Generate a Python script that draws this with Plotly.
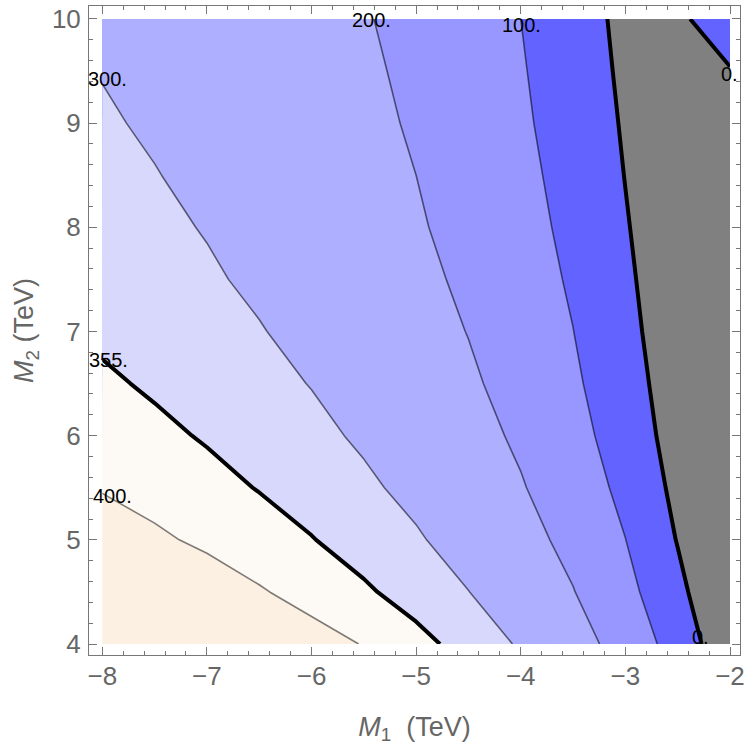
import numpy as np
import plotly.graph_objects as go

# ---- data read (estimated) from the reference picture ----
m1 = [-8.0, -7.5, -7.0, -6.5, -6.0, -5.5, -5.0, -4.5, -4.0, -3.5, -3.0, -2.5, -2.0]   # M1 (TeV)
m2 = [4.0, 4.5, 5.0, 5.5, 6.0, 6.5, 7.0, 7.5, 8.0, 8.5, 9.0, 9.5, 10.0]               # M2 (TeV)

z_m2_40 = [513, 486, 461, 435, 418, 398, 370, 337, 293, 237, 164, 59, -70]
z_m2_45 = [469, 447, 426, 404, 384, 362, 335, 301, 258, 203, 129, 23, -91]
z_m2_50 = [425, 408, 391, 375, 357, 334, 307, 272, 230, 176, 101, -4, -109]
z_m2_55 = [397, 383, 369, 353, 334, 311, 283, 249, 206, 152, 77, -23, -120]
z_m2_60 = [377, 365, 351, 334, 315, 291, 263, 229, 187, 132, 55, -38, -128]
z_m2_65 = [362, 349, 334, 317, 298, 274, 246, 212, 170, 115, 38, -46, -129]
z_m2_70 = [347, 334, 320, 303, 283, 259, 231, 198, 155, 101, 25, -53, -130]
z_m2_75 = [335, 322, 307, 290, 270, 246, 219, 186, 143, 89, 15, -58, -129]
z_m2_80 = [324, 311, 297, 280, 259, 236, 208, 175, 132, 78, 6, -62, -131]
z_m2_85 = [315, 302, 287, 270, 250, 226, 200, 166, 123, 68, -2, -68, -134]
z_m2_90 = [306, 293, 279, 261, 241, 218, 192, 158, 114, 58, -9, -73, -50]
z_m2_95 = [298, 286, 271, 254, 234, 212, 185, 150, 107, 50, -16, -40, -3]
z_m2_100 = [291, 278, 263, 247, 227, 205, 179, 143, 100, 42, -22, -10, 32]

levels = [0, 100, 200, 300, 355, 400]
label_text = ["0.", "0.", "100.", "200.", "300.", "355.", "400."]
label_level = [0, 0, 100, 200, 300, 355, 400]

# ---- styles ----
band_colors = ["#808080", "#6363ff", "#9797ff", "#afafff", "#d8d8fd", "#fdf9f4", "#fcf0e2"]
line_colors = ["black", "rgba(0,0,0,0.55)", "rgba(0,0,0,0.55)", "rgba(0,0,0,0.55)", "black", "rgba(0,0,0,0.5)"]
line_widths = [4, 1.6, 1.6, 1.6, 4, 1.6]
label_edge = ["bottom", "right", "top", "top", "left", "left", "left"]
label_shift = [(-1, 7), (-1, -7), (1, -6), (-2, -1), (5, 5), (6, -1), (10, -3)]

Z = np.array([z_m2_40, z_m2_45, z_m2_50, z_m2_55, z_m2_60, z_m2_65, z_m2_70,
              z_m2_75, z_m2_80, z_m2_85, z_m2_90, z_m2_95, z_m2_100], dtype=float)
X = np.array(m1)
Y = np.array(m2)

# stepped colour scale for filled bands (contour step 5 covers all levels)
step = 5.0
zlo = levels[0] - step / 2
zhi = levels[-1] + step / 2
cs = [[0.0, band_colors[0]]]
for k, lv in enumerate(levels):
    p = (lv - zlo) / (zhi - zlo)
    cs.append([p, band_colors[k]])
    cs.append([p, band_colors[k + 1]])
cs.append([1.0, band_colors[-1]])

fig = go.Figure()
fig.add_trace(go.Contour(
    x=X, y=Y, z=Z, autocontour=False,
    contours=dict(start=levels[0], end=levels[-1], size=step, coloring="fill", showlines=False),
    colorscale=cs, showscale=False, line=dict(width=0, smoothing=0), hoverinfo="skip",
))
for lv, lc, lw in zip(levels, line_colors, line_widths):
    fig.add_trace(go.Contour(
        x=X, y=Y, z=Z, autocontour=False,
        contours=dict(start=lv, end=lv, size=1, coloring="none"),
        line=dict(color=lc, width=lw, smoothing=0), showscale=False, hoverinfo="skip",
    ))


def crossing(vals, coords, level):
    for i in range(len(vals) - 1):
        a, b = vals[i] - level, vals[i + 1] - level
        if a * b <= 0 and a != b:
            return coords[i] + a / (a - b) * (coords[i + 1] - coords[i])
    return None


for txt, lv, edge, (dx, dy) in zip(label_text, label_level, label_edge, label_shift):
    if edge == "top":
        px, py = crossing(Z[-1], X, lv), Y[-1]
    elif edge == "bottom":
        px, py = crossing(Z[0], X, lv), Y[0]
    elif edge == "left":
        px, py = X[0], crossing(Z[:, 0], Y, lv)
    else:
        px, py = X[-1], crossing(Z[:, -1], Y, lv)
    fig.add_annotation(x=px, y=py, text=txt, showarrow=False, xanchor="center", yanchor="middle",
                       xshift=dx, yshift=dy, font=dict(family="Liberation Sans", size=20, color="black"))

frame = "#777777"
axis_common = dict(
    showline=True, linecolor=frame, linewidth=1, mirror="allticks",
    ticks="inside", ticklen=8, tickwidth=1, tickcolor=frame, dtick=1,
    minor=dict(ticks="inside", ticklen=4, tickwidth=1, tickcolor=frame, dtick=0.2),
    showgrid=False, zeroline=False,
    tickfont=dict(family="Liberation Sans", size=26, color="#666666"),
)
fig.update_xaxes(range=[-8.127, -1.9044], tick0=-8, ticklabelstandoff=-2,
                 title=dict(text="<i>M</i><sub>1</sub>  (TeV)", standoff=26,
                            font=dict(family="Liberation Sans", size=27, color="#666666")),
                 **axis_common)
fig.update_yaxes(range=[3.8947, 10.124], tick0=4, ticklabelstandoff=2,
                 title=dict(text="<i>M</i><sub>2</sub> (TeV)", standoff=10,
                            font=dict(family="Liberation Sans", size=27, color="#666666")),
                 **axis_common)
fig.update_layout(
    width=750, height=753, margin=dict(l=89, r=10, t=4, b=98),
    plot_bgcolor="white", paper_bgcolor="white", showlegend=False,
)
fig.write_html("out.html")
